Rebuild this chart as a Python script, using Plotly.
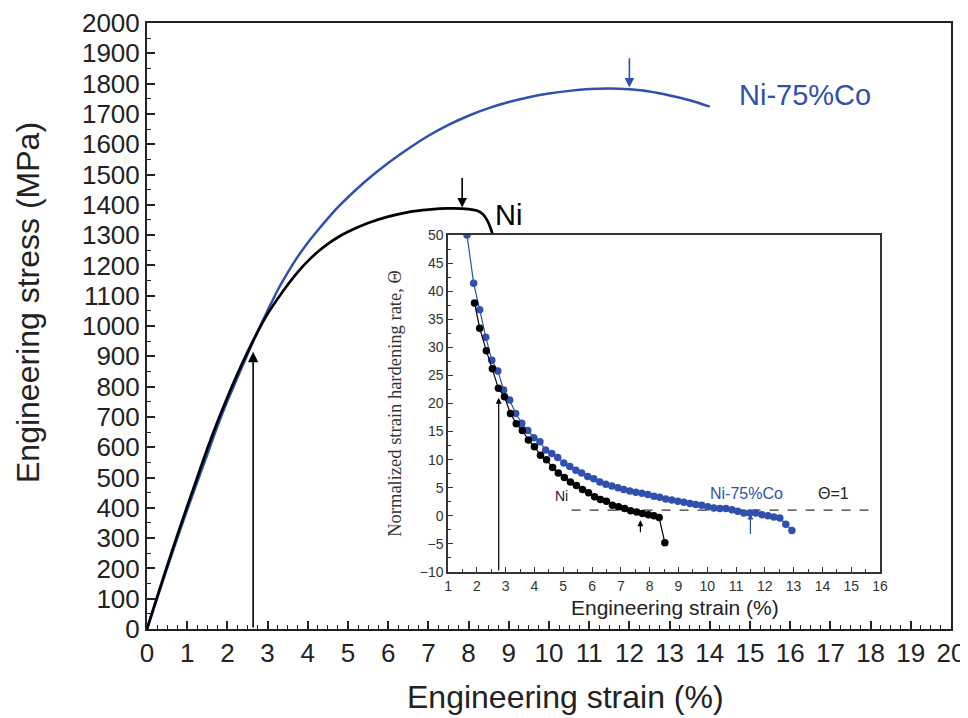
import plotly.graph_objects as go

# ---------------- main stress-strain data ----------------
ni_strain = [0, 0.25, 0.5, 0.75, 1.0, 1.25, 1.5, 1.75, 2.0, 2.25, 2.5, 2.75, 3.0, 3.25,
             3.5, 3.75, 4.0, 4.25, 4.5, 4.75, 5.0, 5.5, 6.0, 6.5, 7.0, 7.5, 8.0, 8.2,
             8.35, 8.45, 8.55, 8.6]
ni_stress = [0, 105, 208, 308, 405, 500, 595, 683, 765, 842, 914, 980, 1040, 1090,
             1136, 1178, 1214, 1245, 1271, 1293, 1311, 1340, 1361, 1376, 1384, 1388, 1386, 1381,
             1370, 1352, 1322, 1300]

co_strain = [0, 0.25, 0.5, 0.75, 1.0, 1.25, 1.5, 1.75, 2.0, 2.25, 2.5, 2.75, 3.0, 3.25,
             3.5, 3.75, 4.0, 4.25, 4.5, 4.75, 5.0, 5.5, 6.0, 6.5, 7.0, 7.5, 8.0, 8.5,
             9.0, 9.5, 10.0, 10.5, 11.0, 11.5, 12.0, 12.5, 13.0, 13.5, 14.0]
co_stress = [0, 100, 200, 298, 393, 485, 576, 668, 752, 830, 906, 981, 1051, 1118,
             1176, 1229, 1275, 1316, 1355, 1392, 1425, 1485, 1538, 1585, 1628, 1664, 1694, 1719,
             1739, 1755, 1767, 1776, 1782, 1784, 1781, 1774, 1761, 1745, 1724]

# marked strains (arrows) in the main plot
uts_strain = [7.84, 12.0]          # Ni, Ni-75%Co
uts_stress = [1388, 1784]
cross_strain = 2.64
cross_stress = 915

# ---------------- inset: normalized strain hardening rate ----------------
ni_in_strain = [1.92, 2.10, 2.33, 2.54, 2.75, 2.96, 3.17, 3.37, 3.58, 3.79, 4.00, 4.21,
                4.42, 4.63, 4.83, 5.04, 5.25, 5.46, 5.67, 5.88, 6.09, 6.29, 6.50, 6.71,
                6.92, 7.13, 7.34, 7.55, 7.75, 7.96, 8.15, 8.33, 8.53]
ni_theta = [37.9, 33.4, 29.4, 26.2, 22.7, 21.2, 18.2, 16.4, 15.2, 13.5, 12.3, 10.8,
            10.0, 8.6, 7.6, 6.8, 6.0, 5.4, 4.7, 4.1, 3.4, 2.9, 2.6, 1.9,
            1.6, 1.3, 0.9, 0.7, 0.4, 0.2, 0.0, -0.3, -4.8]

co_in_strain = [1.66, 1.89, 2.10, 2.31, 2.52, 2.73, 2.93, 3.14, 3.35, 3.56, 3.77, 3.98,
                4.19, 4.39, 4.60, 4.81, 5.02, 5.23, 5.44, 5.64, 5.85, 6.06, 6.27, 6.48,
                6.69, 6.90, 7.10, 7.31, 7.52, 7.73, 7.94, 8.15, 8.35, 8.56, 8.77, 8.98,
                9.19, 9.40, 9.60, 9.81, 10.02, 10.23, 10.44, 10.65, 10.86, 11.06, 11.27,
                11.48, 11.69, 11.90, 12.11, 12.31, 12.52, 12.73, 12.94]
co_theta = [50.0, 41.4, 36.7, 31.8, 27.7, 25.8, 22.4, 20.6, 18.2, 16.5, 15.2, 13.9,
            13.2, 11.7, 11.1, 10.4, 9.4, 8.8, 8.1, 7.6, 7.0, 6.6, 6.0, 5.6,
            5.3, 5.0, 4.7, 4.4, 4.2, 4.0, 3.8, 3.5, 3.3, 3.0, 2.8, 2.6,
            2.4, 2.2, 2.0, 1.9, 1.6, 1.4, 1.3, 1.3, 1.1, 0.8, 0.5,
            0.5, 0.5, 0.2, 0.0, -0.2, -0.4, -1.5, -2.6]

theta_one_strain = [5.29, 15.6]
theta_one_value = [1, 1]

inset_arrow_strain = [2.76, 7.68, 11.5]
inset_arrow_top = [21.0, -0.8, 0.4]
inset_arrow_bottom = [-10, -3.2, -3.5]

BLUE = "#3050AE"
BLACK = "#000000"
FONT = "Liberation Sans, Arial, sans-serif"
SERIF = "Liberation Serif, DejaVu Serif, serif"

fig = go.Figure()

fig.add_trace(go.Scatter(x=co_strain, y=co_stress, mode="lines",
                         line=dict(color=BLUE, width=2.5, shape="spline", smoothing=0.8),
                         xaxis="x", yaxis="y", showlegend=False))
fig.add_trace(go.Scatter(x=ni_strain, y=ni_stress, mode="lines",
                         line=dict(color=BLACK, width=2.7, shape="spline", smoothing=0.8),
                         xaxis="x", yaxis="y", showlegend=False))

fig.add_trace(go.Scatter(x=theta_one_strain, y=theta_one_value, mode="lines",
                         line=dict(color="#333333", width=1.2, dash="dash"),
                         xaxis="x2", yaxis="y2", showlegend=False))
fig.add_trace(go.Scatter(x=co_in_strain, y=co_theta, mode="lines+markers",
                         line=dict(color=BLUE, width=1.2), marker=dict(color=BLUE, size=7.5),
                         xaxis="x2", yaxis="y2", showlegend=False))
fig.add_trace(go.Scatter(x=ni_in_strain, y=ni_theta, mode="lines+markers",
                         line=dict(color=BLACK, width=1.2), marker=dict(color=BLACK, size=7.5),
                         xaxis="x2", yaxis="y2", showlegend=False))

annotations = []
# main plot arrows
uts_colors = [BLACK, BLUE]
for s, v, c in zip(uts_strain, uts_stress, uts_colors):
    annotations.append(dict(x=s, y=v + 3, ax=s, ay=v + 105, xref="x", yref="y", axref="x", ayref="y",
                            showarrow=True, arrowhead=2, arrowsize=1.2, arrowwidth=1.6,
                            arrowcolor=c, text=""))
annotations.append(dict(x=cross_strain, y=cross_stress, ax=cross_strain, ay=0, xref="x", yref="y",
                        axref="x", ayref="y", showarrow=True, arrowhead=2, arrowsize=1.3,
                        arrowwidth=1.6, arrowcolor=BLACK, text=""))
# inset arrows
inset_colors = [BLACK, BLACK, BLUE]
for s, top, bot, c in zip(inset_arrow_strain, inset_arrow_top, inset_arrow_bottom, inset_colors):
    annotations.append(dict(x=s, y=top, ax=s, ay=bot, xref="x2", yref="y2", axref="x2", ayref="y2",
                            showarrow=True, arrowhead=2, arrowsize=1.0, arrowwidth=1.2,
                            arrowcolor=c, text=""))
# labels
annotations += [
    dict(x=16.37, y=1762, xref="x", yref="y", text="Ni-75%Co", showarrow=False,
         font=dict(family=FONT, size=29, color=BLUE)),
    dict(x=8.6, y=1366, xref="x", yref="y", text="Ni", showarrow=False, xanchor="left",
         font=dict(family=FONT, size=29, color=BLACK)),
    dict(x=4.94, y=3.6, xref="x2", yref="y2", text="Ni", showarrow=False,
         font=dict(family=FONT, size=14, color="#222222")),
    dict(x=11.37, y=4.0, xref="x2", yref="y2", text="Ni-75%Co", showarrow=False,
         font=dict(family=FONT, size=16, color=BLUE)),
    dict(x=14.38, y=4.0, xref="x2", yref="y2", text="Θ=1", showarrow=False,
         font=dict(family=FONT, size=16, color="#222222")),
    # axis titles
    dict(x=-0.148, y=0.538, xref="paper", yref="paper", text="Engineering stress (MPa)",
         textangle=-90, showarrow=False, xanchor="center", yanchor="middle",
         font=dict(family=FONT, size=32, color="#222222")),
    dict(x=0.521, y=-0.112, xref="paper", yref="paper", text="Engineering strain (%)",
         showarrow=False, xanchor="center", yanchor="middle",
         font=dict(family=FONT, size=32, color="#222222")),
    dict(x=0.657, y=0.035, xref="paper", yref="paper", text="Engineering strain (%)",
         showarrow=False, xanchor="center", yanchor="middle",
         font=dict(family=FONT, size=21, color="#222222")),
]

fig.update_layout(
    width=960, height=710,
    margin=dict(l=139, r=17, t=15, b=89),
    paper_bgcolor="white", plot_bgcolor="white",
    annotations=annotations,
    xaxis=dict(range=[0, 20], dtick=1, tick0=0, showgrid=False, zeroline=False, automargin=False,
               showline=True, linecolor="#222222", linewidth=2, mirror=True,
               ticks="inside", ticklen=8, tickwidth=1.6, tickcolor="#222222",
               minor=dict(dtick=0.25, ticks="inside", ticklen=4, tickwidth=1.3, tickcolor="#222222"),
               tickfont=dict(family=FONT, size=26, color="#222222")),
    yaxis=dict(range=[0, 2000], dtick=100, tick0=0, showgrid=False, zeroline=False, automargin=False,
               showline=True, linecolor="#222222", linewidth=2, mirror=True,
               ticks="inside", ticklen=8, tickwidth=1.6, tickcolor="#222222",
               minor=dict(dtick=50, ticks="inside", ticklen=4, tickwidth=1.3, tickcolor="#222222"),
               tickfont=dict(family=FONT, size=26, color="#222222")),
    xaxis2=dict(domain=[0.3744, 0.9117], anchor="y2", range=[1, 16], dtick=1, showgrid=False,
                zeroline=False, showline=True, linecolor="#333333", linewidth=1.5, mirror=True,
                automargin=False,
                ticks="inside", ticklen=5, tickwidth=1.2, tickcolor="#333333",
                minor=dict(dtick=0.5, ticks="inside", ticklen=3, tickwidth=1, tickcolor="#333333"),
                tickfont=dict(family=FONT, size=14, color="#333333")),
    yaxis2=dict(domain=[0.0941, 0.6502], anchor="x2", range=[-10, 50], dtick=5, showgrid=False,
                zeroline=False, showline=True, linecolor="#333333", linewidth=1.5, mirror=True,
                automargin=False,
                ticks="inside", ticklen=5, tickwidth=1.2, tickcolor="#333333",
                minor=dict(dtick=2.5, ticks="inside", ticklen=3, tickwidth=1, tickcolor="#333333"),
                tickfont=dict(family=FONT, size=14, color="#333333"),
                title=dict(text="Normalized strain hardening rate, Θ", standoff=13,
                           font=dict(family=SERIF, size=18.5, color="#333333"))),
)

fig.write_html("out.html")
